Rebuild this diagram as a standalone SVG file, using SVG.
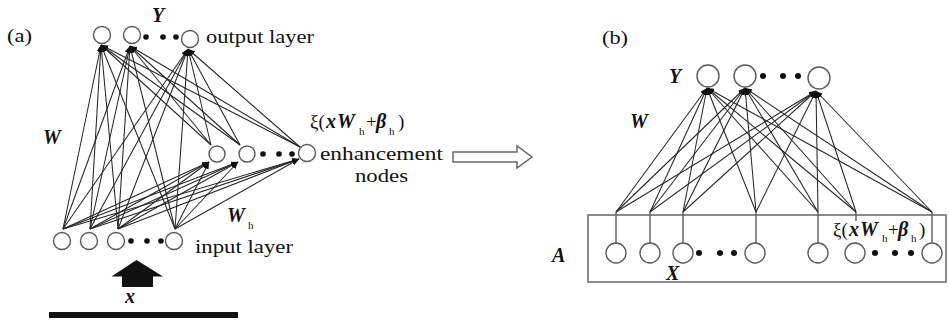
<svg xmlns="http://www.w3.org/2000/svg" width="949" height="322" viewBox="0 0 949 322">
<style>
.ln{stroke:#262626;stroke-width:1.05;fill:none}
.ar{marker-end:url(#tip)}
.nd{fill:#fff;stroke:#5a5a5a;stroke-width:1.4}
.dt{fill:#111}
.t{font-family:"Liberation Serif","Times New Roman",serif;fill:#111;font-size:19px}
.m{font-family:"Liberation Serif","Times New Roman",serif;fill:#111;font-size:20px;font-weight:bold;font-style:italic}
.s{font-family:"Liberation Serif","Times New Roman",serif;fill:#111;font-size:11px}
</style>
<defs>
<marker id="tip" markerUnits="userSpaceOnUse" markerWidth="8" markerHeight="6" refX="7" refY="3" orient="auto">
<path d="M0,0 L7,3 L0,6 Z" fill="#111"/>
</marker>
</defs>
<rect width="949" height="322" fill="#fff"/>

<g id="connectors">
<line class="ln ar" x1="63" y1="229" x2="101" y2="45"/>
<line class="ln ar" x1="63" y1="229" x2="130" y2="46"/>
<line class="ln ar" x1="63" y1="229" x2="188" y2="49"/>
<line class="ln ar" x1="90" y1="229" x2="101" y2="45"/>
<line class="ln ar" x1="90" y1="229" x2="130" y2="46"/>
<line class="ln ar" x1="90" y1="229" x2="188" y2="49"/>
<line class="ln ar" x1="118" y1="229" x2="101" y2="45"/>
<line class="ln ar" x1="118" y1="229" x2="130" y2="46"/>
<line class="ln ar" x1="118" y1="229" x2="188" y2="49"/>
<line class="ln ar" x1="175" y1="229" x2="101" y2="45"/>
<line class="ln ar" x1="175" y1="229" x2="130" y2="46"/>
<line class="ln ar" x1="175" y1="229" x2="188" y2="49"/>
<line class="ln ar" x1="211" y1="145" x2="101" y2="45"/>
<line class="ln ar" x1="211" y1="145" x2="130" y2="46"/>
<line class="ln ar" x1="211" y1="145" x2="188" y2="49"/>
<line class="ln ar" x1="240" y1="145" x2="101" y2="45"/>
<line class="ln ar" x1="240" y1="145" x2="130" y2="46"/>
<line class="ln ar" x1="240" y1="145" x2="188" y2="49"/>
<line class="ln ar" x1="300" y1="147" x2="101" y2="45"/>
<line class="ln ar" x1="300" y1="147" x2="130" y2="46"/>
<line class="ln ar" x1="300" y1="147" x2="188" y2="49"/>
<line class="ln ar" x1="63" y1="229" x2="209" y2="162"/>
<line class="ln ar" x1="63" y1="229" x2="238" y2="162"/>
<line class="ln ar" x1="63" y1="229" x2="299" y2="159"/>
<line class="ln ar" x1="90" y1="229" x2="209" y2="162"/>
<line class="ln ar" x1="90" y1="229" x2="238" y2="162"/>
<line class="ln ar" x1="90" y1="229" x2="299" y2="159"/>
<line class="ln ar" x1="118" y1="229" x2="209" y2="162"/>
<line class="ln ar" x1="118" y1="229" x2="238" y2="162"/>
<line class="ln ar" x1="118" y1="229" x2="299" y2="159"/>
<line class="ln ar" x1="175" y1="229" x2="209" y2="162"/>
<line class="ln ar" x1="175" y1="229" x2="238" y2="162"/>
<line class="ln ar" x1="175" y1="229" x2="299" y2="159"/>
<line class="ln ar" x1="616" y1="212" x2="707" y2="88"/>
<line class="ln ar" x1="616" y1="212" x2="745" y2="88"/>
<line class="ln ar" x1="616" y1="212" x2="816" y2="91"/>
<line class="ln ar" x1="650" y1="212" x2="707" y2="88"/>
<line class="ln ar" x1="650" y1="212" x2="745" y2="88"/>
<line class="ln ar" x1="650" y1="212" x2="816" y2="91"/>
<line class="ln ar" x1="683" y1="212" x2="707" y2="88"/>
<line class="ln ar" x1="683" y1="212" x2="745" y2="88"/>
<line class="ln ar" x1="683" y1="212" x2="816" y2="91"/>
<line class="ln ar" x1="756" y1="212" x2="707" y2="88"/>
<line class="ln ar" x1="756" y1="212" x2="745" y2="88"/>
<line class="ln ar" x1="756" y1="212" x2="816" y2="91"/>
<line class="ln ar" x1="818" y1="212" x2="707" y2="88"/>
<line class="ln ar" x1="818" y1="212" x2="745" y2="88"/>
<line class="ln ar" x1="818" y1="212" x2="816" y2="91"/>
<line class="ln ar" x1="856" y1="212" x2="707" y2="88"/>
<line class="ln ar" x1="856" y1="212" x2="745" y2="88"/>
<line class="ln ar" x1="856" y1="212" x2="816" y2="91"/>
<line class="ln ar" x1="932" y1="212" x2="707" y2="88"/>
<line class="ln ar" x1="932" y1="212" x2="745" y2="88"/>
<line class="ln ar" x1="932" y1="212" x2="816" y2="91"/>
<line class="ln" x1="616" y1="212" x2="616" y2="243"/>
<line class="ln" x1="650" y1="212" x2="650" y2="243"/>
<line class="ln" x1="683" y1="212" x2="683" y2="243"/>
<line class="ln" x1="756" y1="212" x2="756" y2="243"/>
<line class="ln" x1="818" y1="212" x2="818" y2="243"/>
<line class="ln" x1="856" y1="212" x2="856" y2="243"/>
<line class="ln" x1="932" y1="212" x2="932" y2="243"/>
</g>

<text class="t" x="7" y="42" textLength="25" lengthAdjust="spacingAndGlyphs">(a)</text>
<text class="m" x="152" y="22">Y</text>
<text class="m" x="43" y="144">W</text>

<g id="a-output-1"><circle class="nd" cx="102" cy="35" r="8.5"/></g>
<g id="a-output-2"><circle class="nd" cx="132" cy="35" r="8.5"/></g>
<g id="a-output-dots"><circle class="dt" cx="146" cy="37" r="2.8"/><circle class="dt" cx="163" cy="37" r="2.8"/><circle class="dt" cx="176" cy="37" r="2.8"/></g>
<g id="a-output-3"><circle class="nd" cx="190" cy="39" r="8.5"/></g>
<text class="t" x="206" y="43" textLength="108" lengthAdjust="spacingAndGlyphs">output layer</text>

<g id="a-enh-1"><circle class="nd" cx="217" cy="154" r="8"/></g>
<g id="a-enh-2"><circle class="nd" cx="247" cy="154" r="8"/></g>
<g id="a-enh-dots"><circle class="dt" cx="263" cy="154" r="2.8"/><circle class="dt" cx="279" cy="154" r="2.8"/><circle class="dt" cx="292" cy="154" r="2.8"/></g>
<g id="a-enh-3"><circle class="nd" cx="307" cy="153" r="8.5"/></g>

<g id="a-enh-label">
<text class="t" x="310" y="128">ξ(</text>
<text class="m" x="326" y="128">x</text>
<text class="m" x="337" y="128">W</text>
<text class="s" x="359" y="135">h</text>
<text class="t" x="366" y="128">+</text>
<text class="m" x="376" y="128">β</text>
<text class="s" x="389" y="135">h</text>
<text class="t" x="398" y="128">)</text>
</g>
<text class="t" x="320" y="160" textLength="123" lengthAdjust="spacingAndGlyphs">enhancement</text>
<text class="t" x="355" y="182" textLength="53" lengthAdjust="spacingAndGlyphs">nodes</text>

<g id="a-input-1"><circle class="nd" cx="62" cy="241" r="8.5"/></g>
<g id="a-input-2"><circle class="nd" cx="89" cy="241" r="8.5"/></g>
<g id="a-input-3"><circle class="nd" cx="116" cy="241" r="8.5"/></g>
<g id="a-input-dots"><circle class="dt" cx="131" cy="241" r="2.8"/><circle class="dt" cx="147" cy="241" r="2.8"/><circle class="dt" cx="161" cy="241" r="2.8"/></g>
<g id="a-input-4"><circle class="nd" cx="174" cy="241" r="8.5"/></g>
<text class="m" x="227" y="222">W</text>
<text class="s" x="248" y="229">h</text>
<text class="t" x="195" y="253" textLength="98" lengthAdjust="spacingAndGlyphs">input layer</text>

<g id="a-input-arrow"><polygon points="136.5,260 163,276.5 153,276.5 153,287 122,287 122,276.5 111.5,276.5" fill="#111"/></g>
<text class="m" x="125" y="303">x</text>
<rect x="49" y="312" width="189" height="6" fill="#111"/>

<g id="transform-arrow"><path d="M453,152 H517 V146 L532,157 L517,168 V162 H453 Z" fill="#fff" stroke="#666" stroke-width="1.5"/></g>

<text class="t" x="602" y="44" textLength="26" lengthAdjust="spacingAndGlyphs">(b)</text>
<text class="m" x="669" y="83">Y</text>
<text class="m" x="630" y="128">W</text>

<g id="b-output-1"><circle class="nd" cx="708" cy="76" r="11"/></g>
<g id="b-output-2"><circle class="nd" cx="745" cy="76" r="11"/></g>
<g id="b-output-dots"><circle class="dt" cx="763" cy="76" r="3"/><circle class="dt" cx="783" cy="76" r="3"/><circle class="dt" cx="798" cy="76" r="3"/></g>
<g id="b-output-3"><circle class="nd" cx="819" cy="78" r="11"/></g>

<g id="b-layer-box"><rect x="588" y="215" width="358" height="67" fill="none" stroke="#666" stroke-width="1.5"/></g>
<text class="m" x="552" y="262">A</text>

<g id="b-enh-label">
<rect x="834" y="221" width="92" height="21" fill="#fff"/>
<text class="t" x="833" y="236">ξ(</text>
<text class="m" x="849" y="236">x</text>
<text class="m" x="860" y="236">W</text>
<text class="s" x="882" y="242">h</text>
<text class="t" x="888" y="236">+</text>
<text class="m" x="898" y="236">β</text>
<text class="s" x="911" y="242">h</text>
<text class="t" x="919" y="236">)</text>
</g>

<g id="b-node-1"><circle class="nd" cx="616" cy="253" r="10"/></g>
<g id="b-node-2"><circle class="nd" cx="650" cy="253" r="10"/></g>
<g id="b-node-3"><circle class="nd" cx="683" cy="253" r="10"/></g>
<g id="b-dots-1"><circle class="dt" cx="699" cy="253" r="3"/><circle class="dt" cx="720" cy="253" r="3"/><circle class="dt" cx="734" cy="253" r="3"/></g>
<g id="b-node-4"><circle class="nd" cx="755" cy="253" r="10"/></g>
<g id="b-node-5"><circle class="nd" cx="818" cy="253" r="10"/></g>
<g id="b-node-6"><circle class="nd" cx="855" cy="253" r="10"/></g>
<g id="b-dots-2"><circle class="dt" cx="875" cy="253" r="3"/><circle class="dt" cx="895" cy="253" r="3"/><circle class="dt" cx="911" cy="253" r="3"/></g>
<g id="b-node-7"><circle class="nd" cx="932" cy="253" r="10"/></g>
<text class="m" x="666" y="280">X</text>
</svg>
